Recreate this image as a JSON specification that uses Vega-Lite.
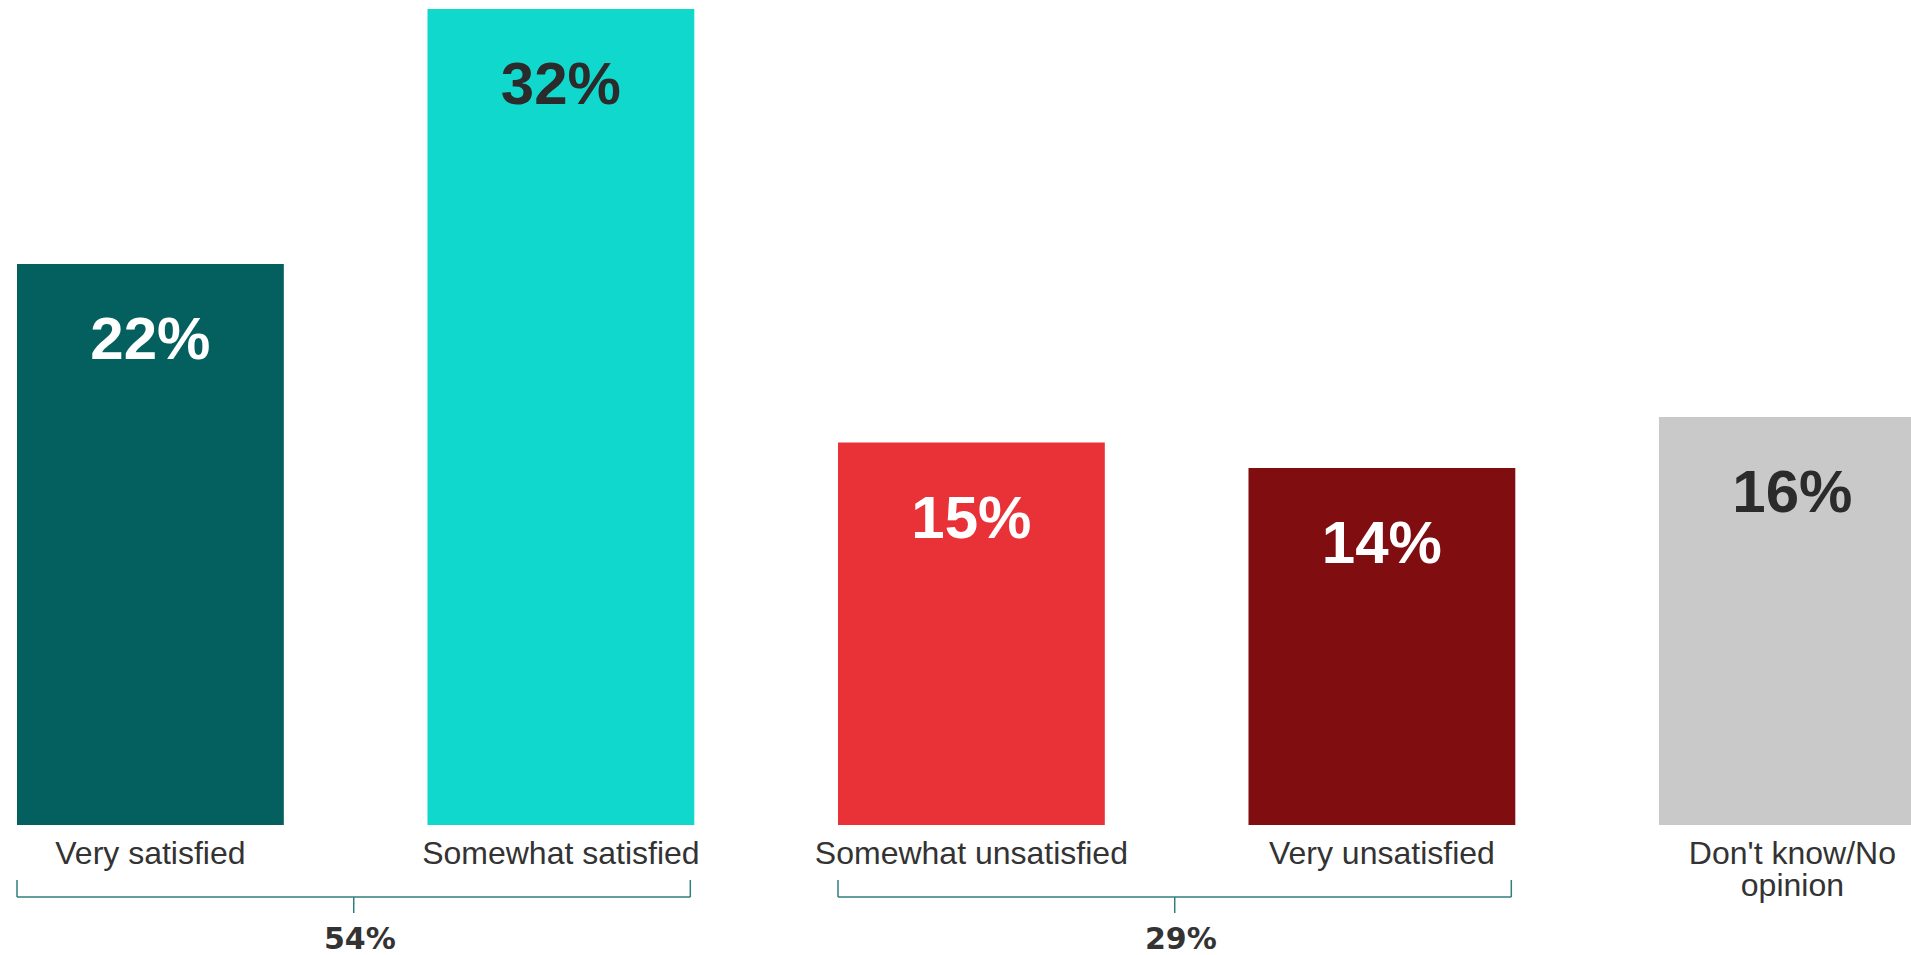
{
  "$schema": "https://vega.github.io/schema/vega-lite/v6.json",
  "width": 1911,
  "height": 955,
  "padding": 0,
  "autosize": {"type": "none"},
  "background": "white",
  "config": {"view": {"stroke": null}, "text": {"font": "Liberation Sans"}},
  "datasets": {
    "bars": [
      {"category": "Very satisfied", "label": "Very satisfied", "value": 0.22},
      {"category": "Somewhat satisfied", "label": "Somewhat satisfied", "value": 0.32},
      {"category": "Somewhat unsatisfied", "label": "Somewhat unsatisfied", "value": 0.15},
      {"category": "Very unsatisfied", "label": "Very unsatisfied", "value": 0.14},
      {"category": "Don't know/No opinion", "label": "Don't know/No\nopinion", "value": 0.16}
    ],
    "groups": [
      {"group": "54%", "from": "Very satisfied", "to": "Somewhat satisfied"},
      {"group": "29%", "from": "Somewhat unsatisfied", "to": "Very unsatisfied"}
    ]
  },
  "layer": [
    {
      "data": {"name": "bars"},
      "mark": {"type": "bar", "clip": true},
      "encoding": {
        "x": {
          "field": "category", "type": "nominal", "axis": null,
          "scale": {
            "domain": ["Very satisfied", "Somewhat satisfied", "Somewhat unsatisfied", "Very unsatisfied", "Don't know/No opinion"],
            "range": [17, 1925.8], "paddingInner": 0.35, "paddingOuter": 0
          }
        },
        "y": {
          "field": "value", "type": "quantitative", "axis": null,
          "scale": {"domain": [-0.05098, 0.32353], "nice": false, "zero": false}
        },
        "color": {
          "field": "category", "type": "nominal", "legend": null,
          "scale": {
            "domain": ["Very satisfied", "Somewhat satisfied", "Somewhat unsatisfied", "Very unsatisfied", "Don't know/No opinion"],
            "range": ["#04605f", "#10d8cd", "#e93237", "#800e11", "#c9c9c9"]
          }
        }
      }
    },
    {
      "data": {"name": "bars"},
      "mark": {"type": "text", "fontSize": 60, "fontWeight": "bold", "baseline": "alphabetic", "align": "center", "dy": 95},
      "encoding": {
        "x": {"field": "category", "type": "nominal"},
        "y": {"field": "value", "type": "quantitative"},
        "text": {"field": "value", "type": "quantitative", "format": ".0%"},
        "color": {
          "condition": {"test": "datum.category == 'Somewhat satisfied' || datum.category == \"Don't know/No opinion\"", "value": "#2b2b2b"},
          "value": "#ffffff"
        }
      }
    },
    {
      "data": {"name": "bars"},
      "mark": {"type": "text", "fontSize": 32, "color": "#333333", "baseline": "alphabetic", "align": "center", "lineBreak": "\n", "lineHeight": 32},
      "encoding": {
        "x": {"field": "category", "type": "nominal"},
        "y": {"datum": -0.0153, "type": "quantitative"},
        "text": {"field": "label", "type": "nominal"}
      }
    },
    {
      "data": {"name": "groups"},
      "mark": {"type": "rule", "color": "#2f7f7c", "strokeWidth": 1.5},
      "encoding": {
        "x": {"field": "from", "type": "nominal", "bandPosition": 0},
        "x2": {"field": "to", "bandPosition": 0.985},
        "y": {"datum": -0.02824, "type": "quantitative"}
      }
    },
    {
      "data": {"name": "groups"},
      "mark": {"type": "rule", "color": "#2f7f7c", "strokeWidth": 1.5},
      "encoding": {
        "x": {"field": "from", "type": "nominal", "bandPosition": 0},
        "y": {"datum": -0.02157, "type": "quantitative"},
        "y2": {"datum": -0.02824}
      }
    },
    {
      "data": {"name": "groups"},
      "mark": {"type": "rule", "color": "#2f7f7c", "strokeWidth": 1.5},
      "encoding": {
        "x": {"field": "to", "type": "nominal", "bandPosition": 0.985},
        "y": {"datum": -0.02157, "type": "quantitative"},
        "y2": {"datum": -0.02824}
      }
    },
    {
      "data": {"name": "groups"},
      "mark": {"type": "rule", "color": "#2f7f7c", "strokeWidth": 1.5},
      "encoding": {
        "x": {"field": "from", "type": "nominal", "bandPosition": 1.262},
        "y": {"datum": -0.02824, "type": "quantitative"},
        "y2": {"datum": -0.03451}
      }
    },
    {
      "data": {"name": "groups"},
      "mark": {"type": "text", "font": "DejaVu Sans", "fontSize": 30, "fontWeight": "bold", "color": "#333333", "baseline": "alphabetic", "align": "center"},
      "encoding": {
        "x": {"field": "from", "type": "nominal", "bandPosition": 1.285},
        "y": {"datum": -0.0487, "type": "quantitative"},
        "text": {"field": "group", "type": "nominal"}
      }
    }
  ]
}
